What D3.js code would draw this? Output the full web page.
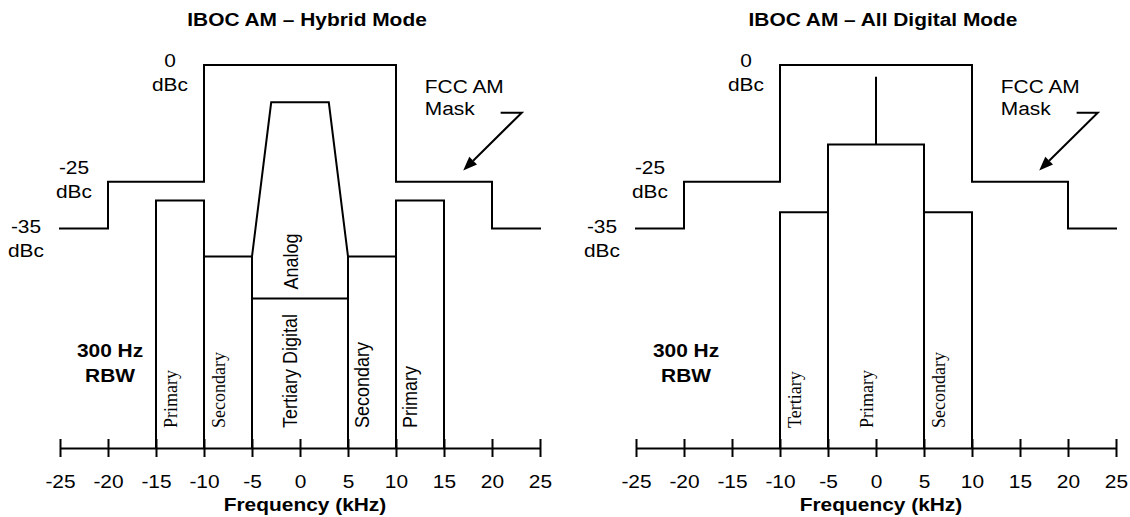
<!DOCTYPE html>
<html><head><meta charset="utf-8">
<script src="https://cdn.jsdelivr.net/npm/d3@7"></script>
<style>body{margin:0;background:#fff}svg{display:block}</style>
</head><body>
<svg id="chart" width="1130" height="517"></svg>
<script>
// ---------- data ----------
const freqTicks = [-25, -20, -15, -10, -5, 0, 5, 10, 15, 20, 25];
const freqTickLabels = ["-25", "-20", "-15", "-10", "-5", "0", "5", "10", "15", "20", "25"];
const maskFreq = [-25, -20, -20, -10, -10, 10, 10, 20, 20, 25];
const maskDb   = [-35, -35, -25, -25, 0, 0, -25, -25, -35, -35];
const levelText = ["0", "-25", "-35"];
const levelFreq = [-10, -20, -25];
const levelDb   = [0, -25, -35];
const floorDb = -82;

const hybridTitle = "IBOC AM \u2013 Hybrid Mode";
const hybridBandName = ["Primary", "Secondary", "Tertiary Digital", "Secondary", "Primary"];
const hybridBandLo   = [-15, -10, -5, 5, 10];
const hybridBandHi   = [-10, -5, 5, 10, 15];
const hybridBandTop  = [-29, -41, -50, -41, -29];
const hybridBandFont = ["serif", "serif", "sans", "sans", "sans"];
const analogFreq = [-5, -5, -3, 3, 5, 5];
const analogDb   = [-50, -41, -8, -8, -41, -50];
const analogName = "Analog";

const digitalTitle = "IBOC AM \u2013 All Digital Mode";
const digitalBandName = ["Tertiary", "Primary", "Secondary"];
const digitalBandLo   = [-10, -5, 5];
const digitalBandHi   = [-5, 5, 10];
const digitalBandTop  = [-31.5, -17, -31.5];
const digitalBandFont = ["serif", "serif", "serif"];
const carrierFreq = 0;
const carrierDb = [-17, -2.5];

const maskNote = ["FCC AM", "Mask"];
const rbwNote = ["300 Hz", "RBW"];
const xTitle = "Frequency (kHz)";

// ---------- layout ----------
const SX = 1.1;
const SANS = "'Liberation Sans', Arial, Helvetica, sans-serif";
const SERIF = "'Liberation Serif', 'Times New Roman', serif";
const svg = d3.select("#chart");
const y = d3.scaleLinear().domain([0, floorDb]).range([65, 448]);

function txt(g, x, yy, s, o = {}) {
  const t = g.append("text")
    .attr("transform", `translate(${x},${yy}) scale(${SX},1)` + (o.rot ? " rotate(-90)" : ""))
    .attr("font-family", o.serif ? SERIF : SANS)
    .attr("font-size", o.size || 19)
    .attr("font-weight", o.bold ? "bold" : "normal")
    .attr("text-anchor", o.anchor || "middle")
    .attr("fill", "#000")
    .text(s);
  if (o.dy) t.attr("dy", o.dy);
  return t;
}

function drawPanel(x0, x1, title, bands, extra) {
  const x = d3.scaleLinear().domain([-25, 25]).range([x0, x1]);
  const g = svg.append("g");
  const line = d3.line().x(d => x(d[0])).y(d => y(d[1]));
  const stroke = p => p.attr("fill", "none").attr("stroke", "#000").attr("stroke-width", 2)
                       .attr("stroke-linejoin", "miter").attr("stroke-linecap", "square");

  // title
  txt(g, x(0) + 7, 26, title, { bold: true });

  // mask
  stroke(g.append("path").attr("d", line(maskFreq.map((f, i) => [f, maskDb[i]]))));

  // level labels
  const nudge = { "0": 2, "-25": -8, "-35": 5 };
  levelText.forEach((t, i) => {
    const cx = x(levelFreq[i]) - 34, by = y(levelDb[i]) + nudge[t];
    txt(g, cx, by, t);
    txt(g, cx, by + 24, "dBc");
  });

  // bands
  bands.name.forEach((n, i) => {
    const p = d3.path();
    p.moveTo(x(bands.lo[i]), y(floorDb));
    p.lineTo(x(bands.lo[i]), y(bands.top[i]));
    p.lineTo(x(bands.hi[i]), y(bands.top[i]));
    p.lineTo(x(bands.hi[i]), y(floorDb));
    stroke(g.append("path").attr("d", p.toString()));
    const cx = (x(bands.lo[i]) + x(bands.hi[i])) / 2 - 10;
    txt(g, cx, y(floorDb) - 20, n, { rot: true, anchor: "start", size: 18, dy: "0.35em", serif: bands.font[i] === "serif" });
  });

  extra(g, x, line, stroke);

  // axis
  const ax = g.append("g").attr("transform", `translate(0,${y(floorDb)})`)
    .call(d3.axisBottom(x).tickValues(freqTicks).tickSizeOuter(0)
      .tickFormat((d, i) => freqTickLabels[i]));
  ax.select(".domain").attr("stroke", "#000").attr("stroke-width", 2);
  ax.selectAll(".tick line").attr("y1", -9).attr("y2", 9).attr("stroke", "#000").attr("stroke-width", 2);
  ax.selectAll(".tick text").attr("y", 40).attr("dy", null)
    .attr("transform", `scale(${SX},1)`)
    .attr("font-family", SANS).attr("font-size", 19).attr("fill", "#000");
  ax.attr("font-family", SANS);

  txt(g, x(0) + 5, 511, xTitle, { bold: true });

  // RBW note
  txt(g, x(0) - 190, 357, rbwNote[0], { bold: true });
  txt(g, x(0) - 190, 382, rbwNote[1], { bold: true });

  // FCC mask note + arrow
  txt(g, x(13), y(-6), maskNote[0], { anchor: "start" });
  txt(g, x(13), y(-6) + 22, maskNote[1], { anchor: "start" });
  const a0 = [x(20.9), y(-10.2)], a1 = [x(23.1), y(-10.2)], tip = [x(17.0), y(-22.6)];
  const dx = tip[0] - a1[0], dyy = tip[1] - a1[1], len = Math.hypot(dx, dyy);
  const ux = dx / len, uy = dyy / len, hl = 14, hw = 5.5;
  const bx = tip[0] - ux * hl, by = tip[1] - uy * hl;
  stroke(g.append("path").attr("d", `M${a0[0]},${a0[1]}H${a1[0]}L${bx},${by}`)).attr("stroke-linecap", "butt");
  g.append("path").attr("fill", "#000")
    .attr("d", `M${tip[0]},${tip[1]}L${bx - uy * hw},${by + ux * hw}L${bx + uy * hw},${by - ux * hw}Z`);
}

drawPanel(60, 540, hybridTitle,
  { name: hybridBandName, lo: hybridBandLo, hi: hybridBandHi, top: hybridBandTop, font: hybridBandFont },
  (g, x, line, stroke) => {
    stroke(g.append("path").attr("d", line(analogFreq.map((f, i) => [f, analogDb[i]]))));
    txt(g, x(0) - 9, y(-50) - 9, analogName, { rot: true, anchor: "start", size: 18, dy: "0.35em" });
  });

drawPanel(636, 1116, digitalTitle,
  { name: digitalBandName, lo: digitalBandLo, hi: digitalBandHi, top: digitalBandTop, font: digitalBandFont },
  (g, x, line, stroke) => {
    stroke(g.append("path").attr("d", line(carrierDb.map(d => [carrierFreq, d])))).attr("stroke-linecap", "butt");
  });
</script>
</body></html>
